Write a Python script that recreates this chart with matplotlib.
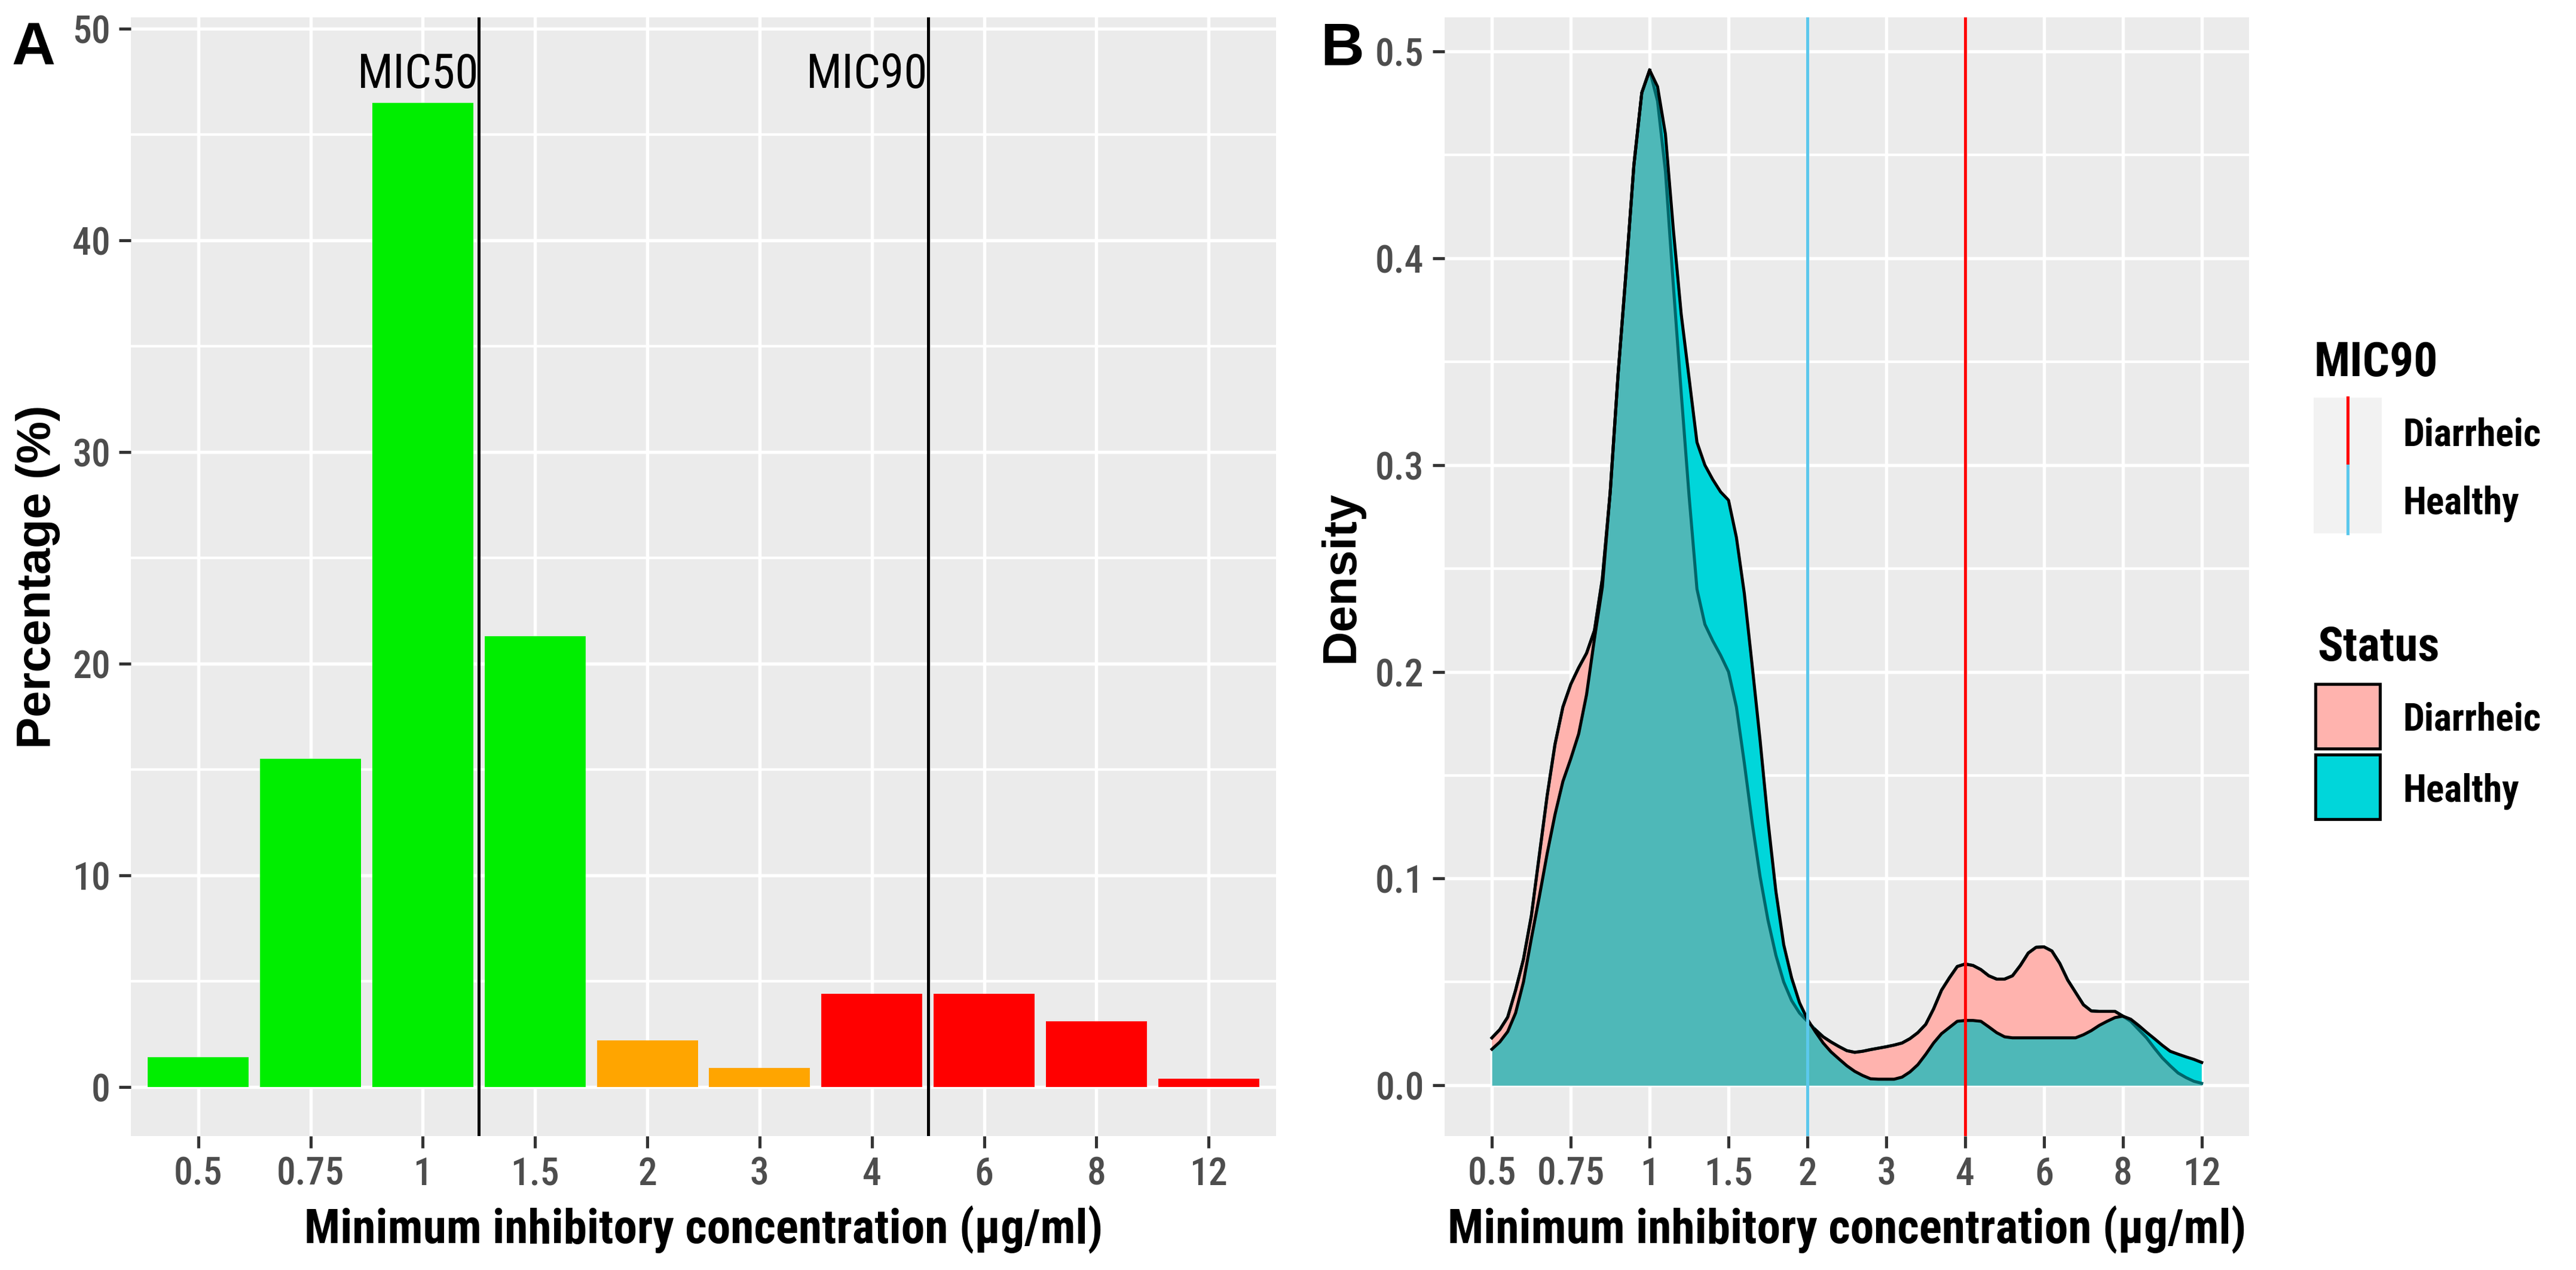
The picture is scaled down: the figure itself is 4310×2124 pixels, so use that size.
import numpy as np
import matplotlib
matplotlib.use("Agg")
import matplotlib.pyplot as plt
from matplotlib.ticker import MultipleLocator, FixedLocator
from matplotlib.patches import Rectangle
from matplotlib import font_manager

# horizontal ggplot text in the figure is squeezed; use a narrow face if present
installed = {f.name for f in font_manager.fontManager.ttflist}
narrow = [n for n in ['Liberation Sans Narrow', 'Arial Narrow', 'Roboto Condensed',
                      'PT Sans Narrow'] if n in installed]
plt.rcParams['font.family'] = narrow[:1] + ['Liberation Sans', 'DejaVu Sans']
WIDE = ['Liberation Sans', 'DejaVu Sans']  # rotated titles and panel tags keep full width

# ---- data ----
mic_labels = ['0.5', '0.75', '1', '1.5', '2', '3', '4', '6', '8', '12']
percent = [1.4, 15.5, 46.5, 21.3, 2.2, 0.9, 4.4, 4.4, 3.1, 0.4]
category = ['S', 'S', 'S', 'S', 'I', 'I', 'R', 'R', 'R', 'R']
cat_colors = {'S': '#00EE00', 'I': '#FFA500', 'R': '#FF0000'}

# MIC50 / MIC90 cut lines (between categories)
mic50_pos = 3.5
mic90_pos = 7.5

# density curves, sampled on the category-index axis (1 = 0.5 ... 10 = 12)
dens_pos = np.round(np.arange(1.0, 10.01, 0.1), 1)
diarrheic = [
    0.023, 0.027, 0.033, 0.046, 0.061, 0.082, 0.111, 0.140, 0.165, 0.183,
    0.194, 0.202, 0.209, 0.220, 0.245, 0.287, 0.344, 0.393, 0.445, 0.480,
    0.491, 0.476, 0.442, 0.387, 0.335, 0.285, 0.240, 0.223, 0.215, 0.208,
    0.200, 0.183, 0.156, 0.127, 0.101, 0.080, 0.063, 0.050, 0.041, 0.035,
    0.031, 0.027, 0.0235, 0.021, 0.0188, 0.0168, 0.016, 0.0165, 0.0173, 0.018,
    0.0187, 0.0195, 0.0205, 0.0226, 0.0255, 0.0295, 0.037, 0.046, 0.052, 0.0575,
    0.0587, 0.058, 0.056, 0.053, 0.0514, 0.0514, 0.053, 0.058, 0.064, 0.0668,
    0.067, 0.065, 0.059, 0.051, 0.045, 0.039, 0.036, 0.0358, 0.0358, 0.0358,
    0.0335, 0.031, 0.027, 0.023, 0.018, 0.0133, 0.0095, 0.006, 0.0038, 0.002,
    0.001,
]
healthy = [
    0.0175, 0.021, 0.026, 0.035, 0.050, 0.071, 0.091, 0.112, 0.131, 0.147,
    0.158, 0.170, 0.189, 0.216, 0.241, 0.287, 0.344, 0.393, 0.445, 0.480,
    0.491, 0.483, 0.460, 0.414, 0.373, 0.342, 0.311, 0.300, 0.293, 0.287,
    0.283, 0.265, 0.238, 0.203, 0.167, 0.128, 0.094, 0.068, 0.052, 0.040,
    0.032, 0.026, 0.0205, 0.0162, 0.0128, 0.0095, 0.0068, 0.0048, 0.0032, 0.003,
    0.003, 0.003, 0.004, 0.0065, 0.010, 0.015, 0.0205, 0.025, 0.028, 0.031,
    0.0314, 0.0314, 0.031, 0.0283, 0.0255, 0.0235, 0.023, 0.023, 0.023, 0.023,
    0.023, 0.023, 0.023, 0.023, 0.023, 0.0245, 0.0265, 0.029, 0.031, 0.0328,
    0.0335, 0.032, 0.029, 0.0257, 0.0226, 0.0194, 0.0165, 0.0151, 0.0138, 0.0126,
    0.0111,
]
mic90_lines = {'Diarrheic': 7, 'Healthy': 5}
mic90_colors = {'Diarrheic': '#FF0000', 'Healthy': '#5BC8EC'}

# ---- style ----
W, H = 4310, 2124
DPI = 520
PANEL_BG = '#EBEBEB'
TICK_COL = '#4D4D4D'
PINK = '#FFB3AE'
CYAN = '#00D6DA'
TEAL = '#4EB8B8'

fig = plt.figure(figsize=(W / DPI, H / DPI), dpi=DPI)


def px_axes(left, top, right, bottom):
    return fig.add_axes([left / W, 1 - bottom / H, (right - left) / W, (bottom - top) / H])


def style_axes(ax):
    ax.set_facecolor(PANEL_BG)
    for s in ax.spines.values():
        s.set_visible(False)
    ax.set_axisbelow(True)
    ax.grid(which='major', color='white', lw=0.75)
    ax.grid(which='minor', axis='y', color='white', lw=0.6)
    ax.tick_params(which='major', length=2.75, width=0.7, color='#333333',
                   labelsize=8.8, labelcolor=TICK_COL)
    ax.tick_params(axis='x', pad=1.8)
    ax.tick_params(axis='y', pad=2.0)
    ax.tick_params(which='minor', length=0)
    ax.xaxis.set_major_locator(FixedLocator(range(1, len(mic_labels) + 1)))
    ax.set_xticklabels(mic_labels)
    ax.set_xlim(0.4, len(mic_labels) + 0.6)
    ax.set_xlabel('Minimum inhibitory concentration (µg/ml)', fontsize=11,
                  fontweight='bold', labelpad=2.75)


def bolden_ticks(ax):
    for lab in ax.get_xticklabels() + ax.get_yticklabels():
        lab.set_fontweight('medium')


# ---- panel A ----
axA = px_axes(219, 29, 2135, 1900)
style_axes(axA)
xpos = np.arange(1, len(mic_labels) + 1)
axA.bar(xpos, percent, width=0.9, color=[cat_colors[c] for c in category], zorder=2)
axA.axvline(mic50_pos, color='black', lw=0.7, zorder=3)
axA.axvline(mic90_pos, color='black', lw=0.7, zorder=3)
axA.text(mic50_pos, 47.2, 'MIC50', ha='right', va='baseline', fontsize=11, zorder=4)
axA.text(mic90_pos, 47.2, 'MIC90', ha='right', va='baseline', fontsize=11, zorder=4)
axA.set_ylim(-2.32, 50.53)
axA.yaxis.set_major_locator(MultipleLocator(10))
axA.yaxis.set_minor_locator(MultipleLocator(5))
axA.set_ylabel('Percentage (%)', fontsize=11, fontweight='bold', labelpad=2.75, family=WIDE)
bolden_ticks(axA)

# ---- panel B ----
axB = px_axes(2417, 29, 3763, 1900)
style_axes(axB)
d = np.array(diarrheic)
h = np.array(healthy)
axB.fill_between(dens_pos, h, d, where=d >= h, interpolate=True, color=PINK, lw=0, zorder=2)
axB.fill_between(dens_pos, d, h, where=h >= d, interpolate=True, color=CYAN, lw=0, zorder=2)
axB.fill_between(dens_pos, 0, np.minimum(d, h), color=TEAL, lw=0, zorder=3)
axB.plot(dens_pos, d, color='#00666A', lw=0.7, zorder=4)
axB.plot(dens_pos, np.ma.masked_where(d < h, d), color='black', lw=0.7, zorder=5)
axB.plot(dens_pos, h, color='black', lw=0.7, zorder=6)
for grp, pos in mic90_lines.items():
    axB.axvline(pos, color=mic90_colors[grp], lw=0.7, zorder=7)
axB.set_ylim(-0.0245, 0.5165)
axB.yaxis.set_major_locator(MultipleLocator(0.1))
axB.yaxis.set_minor_locator(MultipleLocator(0.05))
axB.yaxis.set_major_formatter(plt.FormatStrFormatter('%.1f'))
axB.set_ylabel('Density', fontsize=11, fontweight='bold', labelpad=2.75, family=WIDE)
fig.canvas.draw()
bolden_ticks(axB)

# ---- overlay for panel tags and legends (pixel coords) ----
ov = fig.add_axes([0, 0, 1, 1], zorder=10)
ov.set_xlim(0, W)
ov.set_ylim(H, 0)
ov.axis('off')
ov.patch.set_alpha(0)

ov.text(19, 109, 'A', fontsize=14, fontweight='bold', va='baseline', ha='left', family=WIDE)
ov.text(2209, 109, 'B', fontsize=14, fontweight='bold', va='baseline', ha='left', family=WIDE)

kx, kw = 3871, 114
tx = 4020
# MIC90 legend
ov.text(kx, 629, 'MIC90', fontsize=11, fontweight='bold', va='baseline', ha='left')
for i, grp in enumerate(['Diarrheic', 'Healthy']):
    top = 665 + i * 113.5
    ov.add_patch(Rectangle((kx, top), kw, 113.5, fc='#F2F2F2', ec='none'))
    ov.plot([kx + kw / 2, kx + kw / 2], [top, top + 113.5], color=mic90_colors[grp], lw=0.7)
    ov.text(tx, top + 56.75, grp, fontsize=8.8, fontweight='bold', va='center_baseline', ha='left')

# Status legend
ov.text(kx + 6, 1105, 'Status', fontsize=11, fontweight='bold', va='baseline', ha='left')
for i, (grp, col) in enumerate([('Diarrheic', PINK), ('Healthy', CYAN)]):
    top = 1141 + i * 118
    ov.add_patch(Rectangle((kx, top), kw, 114, fc='#F2F2F2', ec='none'))
    ov.add_patch(Rectangle((kx + 3, top + 3), kw - 6, 108, fc=col, ec='black', lw=0.7))
    ov.text(tx, top + 57, grp, fontsize=8.8, fontweight='bold', va='center_baseline', ha='left')

fig.savefig('out.png', dpi=DPI, facecolor='white')
